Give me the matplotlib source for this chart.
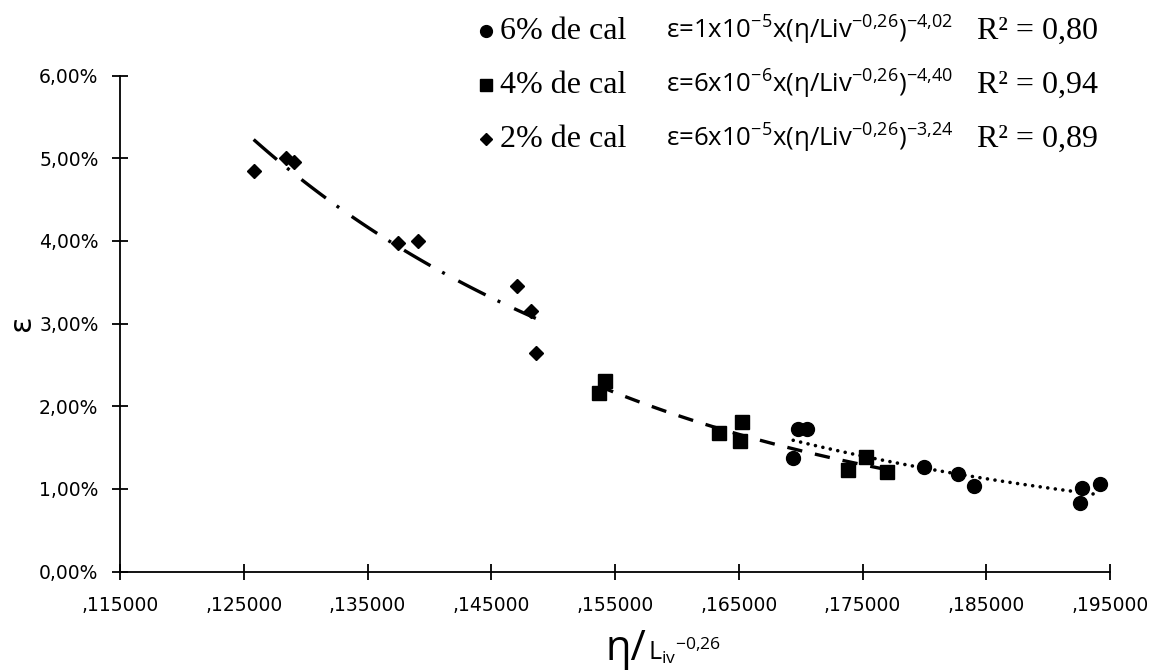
import numpy as np
import matplotlib
matplotlib.use('Agg')
import matplotlib.pyplot as plt
from matplotlib.lines import Line2D
from matplotlib.ticker import FuncFormatter, MultipleLocator

# datos (x = eta/Liv^-0,26, y = deformacion en %)
cal6_x = [0.1698, 0.1705, 0.1694, 0.1800, 0.1827, 0.1840, 0.1927, 0.1926, 0.1942]
cal6_y = [1.72, 1.72, 1.37, 1.26, 1.18, 1.04, 1.01, 0.83, 1.06]

cal4_x = [0.1537, 0.1542, 0.1634, 0.1653, 0.1651, 0.1738, 0.1753, 0.1770]
cal4_y = [2.16, 2.30, 1.68, 1.81, 1.58, 1.23, 1.39, 1.21]

cal2_x = [0.1258, 0.1284, 0.1291, 0.1375, 0.1391, 0.1471, 0.1482, 0.1486]
cal2_y = [4.85, 5.00, 4.95, 3.97, 4.00, 3.46, 3.15, 2.64]

x_ticks = [0.115, 0.125, 0.135, 0.145, 0.155, 0.165, 0.175, 0.185, 0.195]

series_labels = ['6% de cal', '4% de cal', '2% de cal']
equations = [r'ε=1x10$^{\mathregular{-5}}$x(η/Liv$^{\mathit{-0{,}26}}$)$^{\mathregular{-4{,}02}}$',
             r'ε=6x10$^{\mathregular{-6}}$x(η/Liv$^{\mathit{-0{,}26}}$)$^{\mathregular{-4{,}40}}$',
             r'ε=6x10$^{\mathregular{-5}}$x(η/Liv$^{\mathit{-0{,}26}}$)$^{\mathregular{-3{,}24}}$']
r2_labels = ['R² = 0,80', 'R² = 0,94', 'R² = 0,89']

plt.rcParams['mathtext.fontset'] = 'custom'
plt.rcParams['mathtext.rm'] = 'Open Sans'
plt.rcParams['mathtext.it'] = 'Open Sans:italic'
plt.rcParams['mathtext.bf'] = 'Open Sans:bold'

W, H = 1158, 672
fig = plt.figure(figsize=(W / 100, H / 100), dpi=100)
ax = fig.add_axes([120 / W, 1 - 571.5 / H, 990 / W, (571.5 - 75.7) / H])


def fx(px):
    return px / W


def fy(py):
    return 1 - py / H


# puntos
ax.plot(cal6_x, cal6_y, 'o', color='black', markersize=10, zorder=3, clip_on=False)
ax.plot(cal4_x, cal4_y, 's', color='black', markersize=10, zorder=3, clip_on=False)
ax.plot(cal2_x, cal2_y, 'D', color='black', markersize=7.6, zorder=3, clip_on=False)


# lineas de tendencia potencial (ajuste log-log como Excel)
def tendencia(xs, ys):
    b, a = np.polyfit(np.log(xs), np.log(ys), 1)
    xx = np.linspace(min(xs), max(xs), 100)
    return xx, np.exp(a) * xx ** b


xx, yy = tendencia(cal6_x, cal6_y)
ax.plot(xx, yy, color='black', lw=2.6, dashes=(0.01, 2.1), dash_capstyle='round', zorder=4)
xx, yy = tendencia(cal4_x, cal4_y)
ax.plot(xx, yy, color='black', lw=2.4, dashes=(4.6, 3.9), zorder=4)
xx, yy = tendencia(cal2_x, cal2_y)
ax.plot(xx, yy, color='black', lw=2.4, dashes=(9.2, 4.0, 0.9, 4.6), zorder=4)

# ejes
ax.set_xlim(0.115, 0.195)
ax.set_ylim(0, 6)
ax.set_xticks(x_ticks)
ax.yaxis.set_major_locator(MultipleLocator(1))
ax.xaxis.set_major_formatter(FuncFormatter(lambda v, _: f'{v:.6f}'[1:].replace('.', ',')))
ax.yaxis.set_major_formatter(FuncFormatter(lambda v, _: f'{v:.2f}%'.replace('.', ',')))
for s in ['top', 'right']:
    ax.spines[s].set_visible(False)
for s in ['left', 'bottom']:
    ax.spines[s].set_linewidth(1.3)
ax.tick_params(direction='inout', length=11, width=1.3, labelsize=13.5, colors='black')
ax.tick_params(axis='x', pad=12)
ax.tick_params(axis='y', pad=10)

# titulos de ejes
fig.text(fx(22), fy(323), 'ε', rotation=90, fontsize=22, ha='center', va='center')
fig.text(fx(646), fy(660), 'η/', fontsize=30, ha='right', va='baseline', family='Open Sans')
fig.text(fx(648), fy(660), r'L$_{\mathregular{iv}}$$^{\mathregular{-0{,}26}}$', fontsize=18,
         ha='left', va='baseline', family='Open Sans')

# leyenda manual
row_y = [31, 85, 139]
markers = [('o', 8.5), ('s', 8.5), ('D', 6)]
for i in range(3):
    m, ms = markers[i]
    base = fy(row_y[i] + 8)
    fig.add_artist(Line2D([fx(486)], [fy(row_y[i])], marker=m, markersize=ms, color='black',
                          linestyle='none', transform=fig.transFigure))
    fig.text(fx(500), base, series_labels[i], fontsize=23, family='Liberation Serif',
             ha='left', va='baseline')
    fig.text(fx(666), base, equations[i], fontsize=18.5, family='Open Sans',
             ha='left', va='baseline')
    fig.text(fx(977), base, r2_labels[i], fontsize=23, family='Liberation Serif',
             ha='left', va='baseline')

fig.savefig('out.png', dpi=100)
